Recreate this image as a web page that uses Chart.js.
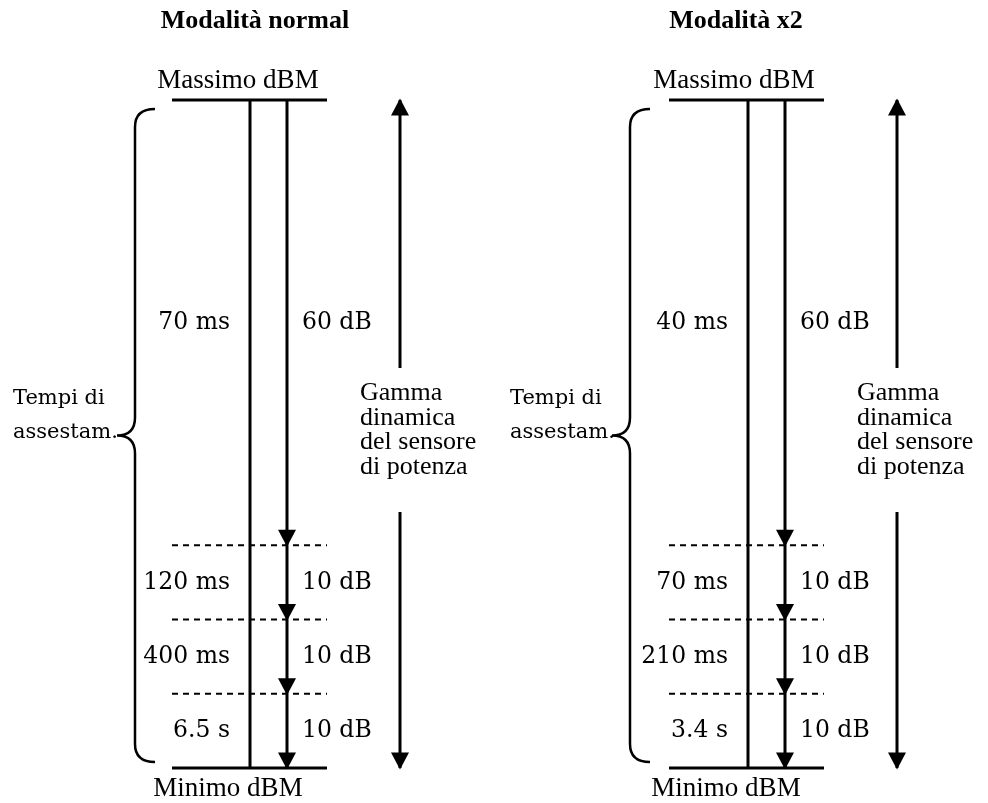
<!DOCTYPE html>
<html lang="it">
<head>
<meta charset="utf-8">
<title>Tempi di assestamento</title>
<script src="https://cdn.jsdelivr.net/npm/chart.js@4.4.1/dist/chart.umd.min.js"></script>
<style>
  html, body { margin: 0; padding: 0; background: #fff; }
  canvas { display: block; }
</style>
</head>
<body>
<canvas id="settlingChart" width="988" height="803"></canvas>
<script>
// --- Data ---
const modeTitles = ['Modalità normal', 'Modalità x2'];
const stepDb = [60, 10, 10, 10];                 // ampiezza di ogni fascia, dall'alto
const settleNormal = ['70 ms', '120 ms', '400 ms', '6.5 s'];
const settleX2 = ['40 ms', '70 ms', '210 ms', '3.4 s'];
const topLabel = 'Massimo dBM';
const bottomLabel = 'Minimo dBM';
const braceLabel = ['Tempi di', 'assestam.'];
const rangeLabel = ['Gamma', 'dinamica', 'del sensore', 'di potenza'];

// bordi delle fasce, in dB sopra il minimo
const totalDb = stepDb.reduce((a, b) => a + b, 0);
const levels = [totalDb];
stepDb.forEach(s => levels.push(levels[levels.length - 1] - s));

// --- Layout of the two panels (pixels) ---
const panels = [
    { title: modeTitles[0], times: settleNormal, titleX: 255, topX: 238, botX: 228,
      hx0: 172, hx1: 327, vx: 250, ax: 287, dx: 400, braceX: 135, textX: 13, rangeX: 360 },
    { title: modeTitles[1], times: settleX2, titleX: 736, topX: 734, botX: 726,
      hx0: 669, hx1: 824, vx: 748, ax: 785, dx: 897, braceX: 630, textX: 510, rangeX: 857 }
];

document.addEventListener('DOMContentLoaded', function() {

    // --- Build line datasets from the levels ---
    const datasets = [];
    const last = levels.length - 1;
    function addLine(points, extra) {
        datasets.push(Object.assign({
            data: points,
            borderColor: '#000',
            borderWidth: 3,
            pointRadius: 0,
            borderCapStyle: 'butt',
            tension: 0,
            clip: false
        }, extra || {}));
    }

    panels.forEach(p => {
        addLine([{ x: p.hx0, y: levels[0] }, { x: p.hx1, y: levels[0] }]);
        addLine([{ x: p.hx0, y: levels[last] }, { x: p.hx1, y: levels[last] }]);
        levels.slice(1, last).forEach(l => {
            addLine([{ x: p.hx0, y: l }, { x: p.hx1, y: l }], { borderWidth: 2, borderDash: [6, 5] });
        });
        addLine([{ x: p.vx, y: levels[0] }, { x: p.vx, y: levels[last] }]);
        addLine(levels.map(l => ({ x: p.ax, y: l })), { arrows: 'each' });
        addLine([{ x: p.dx, y: levels[0] }, { x: p.dx, y: levels[last] }], { arrows: 'both' });
    });

    // --- Arrowheads at the data points ---
    function drawHead(ctx, from, to) {
        const ang = Math.atan2(to.y - from.y, to.x - from.x);
        ctx.save();
        ctx.translate(to.x + Math.cos(ang) * 1.5, to.y + Math.sin(ang) * 1.5);
        ctx.rotate(ang);
        ctx.beginPath();
        ctx.moveTo(0, 0);
        ctx.lineTo(-17, -9);
        ctx.lineTo(-17, 9);
        ctx.closePath();
        ctx.fillStyle = '#000';
        ctx.fill();
        ctx.restore();
    }

    const arrowHeads = {
        id: 'arrowHeads',
        afterDatasetsDraw(chart) {
            chart.data.datasets.forEach((ds, i) => {
                if (!ds.arrows) return;
                const pts = chart.getDatasetMeta(i).data;
                if (ds.arrows === 'each') {
                    for (let k = 1; k < pts.length; k++) drawHead(chart.ctx, pts[k - 1], pts[k]);
                } else {
                    drawHead(chart.ctx, pts[1], pts[0]);
                    drawHead(chart.ctx, pts[0], pts[1]);
                }
            });
        }
    };

    // --- Curly brace beside the settling times ---
    function drawBrace(ctx, x, top, bot) {
        const mid = (top + bot) / 2, r = 18;
        ctx.save();
        ctx.lineWidth = 2.5;
        ctx.strokeStyle = '#000';
        ctx.beginPath();
        ctx.moveTo(x + 20, top);
        ctx.quadraticCurveTo(x, top, x, top + r);
        ctx.lineTo(x, mid - r);
        ctx.quadraticCurveTo(x, mid, x - 18, mid);
        ctx.quadraticCurveTo(x, mid, x, mid + r);
        ctx.lineTo(x, bot - r);
        ctx.quadraticCurveTo(x, bot, x + 20, bot);
        ctx.stroke();
        ctx.restore();
    }

    // --- All the text of the diagram ---
    const diagramText = {
        id: 'diagramText',
        afterDatasetsDraw(chart) {
            const ctx = chart.ctx;
            const y = chart.scales.y;
            const yTop = y.getPixelForValue(levels[0]);
            const yBot = y.getPixelForValue(levels[last]);

            panels.forEach(p => {
                ctx.save();
                ctx.fillStyle = '#000';
                ctx.textAlign = 'center';
                ctx.textBaseline = 'alphabetic';
                ctx.font = "bold 26px 'Liberation Serif'";
                ctx.fillText(p.title, p.titleX, 28);
                ctx.font = "27px 'Liberation Serif'";
                ctx.fillText(topLabel, p.topX, yTop - 12);
                ctx.fillText(bottomLabel, p.botX, yBot + 28);

                // settling time on the left, step size on the right
                ctx.font = "23.5px 'DejaVu Serif'";
                ctx.textBaseline = 'middle';
                stepDb.forEach((s, k) => {
                    const ym = y.getPixelForValue((levels[k] + levels[k + 1]) / 2);
                    ctx.textAlign = 'right';
                    ctx.fillText(p.times[k], p.vx - 20, ym);
                    ctx.textAlign = 'left';
                    ctx.fillText(s + ' dB', p.ax + 15, ym);
                });

                // brace and its label
                drawBrace(ctx, p.braceX, yTop + 9, yBot - 6);
                ctx.textBaseline = 'alphabetic';
                ctx.font = "21px 'DejaVu Serif'";
                braceLabel.forEach((t, k) => ctx.fillText(t, p.textX, 404 + k * 34));

                // gap in the dynamic range arrow, with its label
                ctx.fillStyle = '#fff';
                ctx.fillRect(p.dx - 5, 368, 10, 144);
                ctx.fillStyle = '#000';
                ctx.font = "26px 'Liberation Serif'";
                rangeLabel.forEach((t, k) => ctx.fillText(t, p.rangeX, 400 + k * 24.7));
                ctx.restore();
            });
        }
    };

    new Chart(document.getElementById('settlingChart'), {
        type: 'line',
        data: { datasets: datasets },
        options: {
            responsive: false,
            animation: false,
            devicePixelRatio: 1,
            events: [],
            layout: { padding: { top: 100, bottom: 35, left: 0, right: 0 } },
            plugins: { legend: { display: false }, tooltip: { enabled: false } },
            scales: {
                x: { type: 'linear', min: 0, max: 988, display: false },
                y: { type: 'linear', min: 0, max: 90, display: false }
            }
        },
        plugins: [arrowHeads, diagramText]
    });
});
</script>
</body>
</html>
